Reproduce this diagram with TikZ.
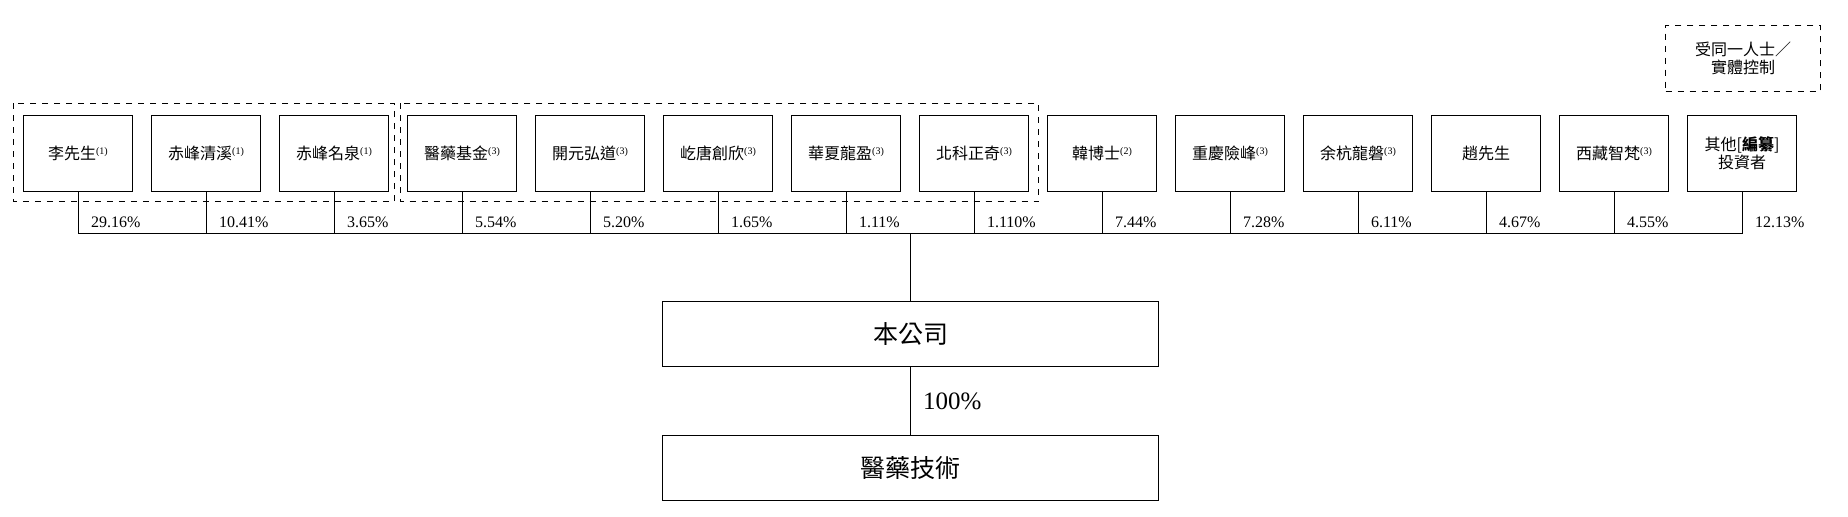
\documentclass[tikz,border=0pt]{standalone}
\usepackage{fontspec}
\setmainfont{Liberation Serif}
\newfontfamily\cjk{Noto Sans CJK TC}
\usetikzlibrary{positioning}

\newcommand{\note}[1]{\raisebox{0.6ex}{\rmfamily\fontsize{5}{5}\selectfont(#1)}}

\begin{document}
\begin{tikzpicture}[
        x=0.5pt, y=-0.5pt,
        line width=0.5pt,
        node distance=9.25pt,
        holder/.style={shape=rectangle, draw, align=center, inner sep=0pt, outer sep=0pt,
            minimum width=54.75pt, minimum height=38.25pt, font=\cjk\fontsize{8}{8.8}\selectfont},
        entity/.style={shape=rectangle, draw, inner sep=0pt,
            minimum width=248.2pt, minimum height=32.4pt, font=\cjk\fontsize{12.5}{14}\selectfont},
        group/.style={draw, dashed},
        share/.style={anchor=base west, inner sep=0pt, xshift=6.25pt, yshift=2.75pt,
            font=\fontsize{8}{8}\selectfont},
    ]
        \useasboundingbox (0,0) rectangle (1848,516);

        % shareholders
        \node[holder] (li) at (78,153.5) {李先生\note{1}};
        \node[holder, right=of li] (qingxi) {赤峰清溪\note{1}};
        \node[holder, right=of qingxi] (mingquan) {赤峰名泉\note{1}};
        \node[holder, right=of mingquan] (fund) {醫藥基金\note{3}};
        \node[holder, right=of fund] (kaiyuan) {開元弘道\note{3}};
        \node[holder, right=of kaiyuan] (qitang) {屹唐創欣\note{3}};
        \node[holder, right=of qitang] (huaxia) {華夏龍盈\note{3}};
        \node[holder, right=of huaxia] (beike) {北科正奇\note{3}};
        \node[holder, right=of beike] (han) {韓博士\note{2}};
        \node[holder, right=of han] (chongqing) {重慶險峰\note{3}};
        \node[holder, right=of chongqing] (yuhang) {余杭龍磐\note{3}};
        \node[holder, right=of yuhang] (zhao) {趙先生};
        \node[holder, right=of zhao] (xizang) {西藏智梵\note{3}};
        \node[holder, right=of xizang] (others) {其他[\textbf{編纂}]\\投資者};

        % common control
        \draw[group] ([xshift=-5pt, yshift=6pt]li.north west) rectangle ([xshift=2.7pt, yshift=-5pt]mingquan.south east);
        \draw[group] ([xshift=-3.6pt, yshift=6pt]fund.north west) rectangle ([xshift=5pt, yshift=-5pt]beike.south east);
        \node[group, align=center, inner sep=0pt, minimum width=77.3pt, minimum height=33.2pt,
            font=\cjk\fontsize{8}{9.2}\selectfont] (legend) at (1743,58.5) {受同一人士／\\實體控制};

        % company
        \node[entity] (company) at (910.5,334.2) {本公司};
        \node[entity] (tech) at (910.5,467.9) {醫藥技術};

        \coordinate (bus) at (910.5,233.3);
        \draw (li.south) -- (li.south |- bus) -- (others.south |- bus) -- (others.south);
        \draw (qingxi.south) -- (qingxi.south |- bus) (mingquan.south) -- (mingquan.south |- bus)
            (fund.south) -- (fund.south |- bus) (kaiyuan.south) -- (kaiyuan.south |- bus)
            (qitang.south) -- (qitang.south |- bus) (huaxia.south) -- (huaxia.south |- bus)
            (beike.south) -- (beike.south |- bus) (han.south) -- (han.south |- bus)
            (chongqing.south) -- (chongqing.south |- bus) (yuhang.south) -- (yuhang.south |- bus)
            (zhao.south) -- (zhao.south |- bus) (xizang.south) -- (xizang.south |- bus);
        \draw (bus) -- (company);
        \draw (company) -- node[right, inner sep=6pt, font=\fontsize{12.5}{12.5}\selectfont] {100\%} (tech);

        % percentages
        \node[share] at (li.south |- bus) {29.16\%};
        \node[share] at (qingxi.south |- bus) {10.41\%};
        \node[share] at (mingquan.south |- bus) {3.65\%};
        \node[share] at (fund.south |- bus) {5.54\%};
        \node[share] at (kaiyuan.south |- bus) {5.20\%};
        \node[share] at (qitang.south |- bus) {1.65\%};
        \node[share] at (huaxia.south |- bus) {1.11\%};
        \node[share] at (beike.south |- bus) {1.110\%};
        \node[share] at (han.south |- bus) {7.44\%};
        \node[share] at (chongqing.south |- bus) {7.28\%};
        \node[share] at (yuhang.south |- bus) {6.11\%};
        \node[share] at (zhao.south |- bus) {4.67\%};
        \node[share] at (xizang.south |- bus) {4.55\%};
        \node[share] at (others.south |- bus) {12.13\%};
\end{tikzpicture}
\end{document}
